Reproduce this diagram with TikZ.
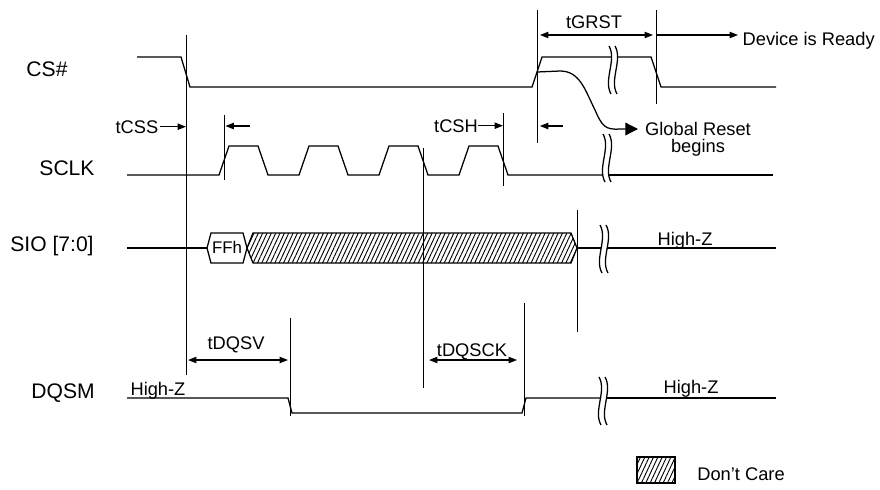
\documentclass[tikz,border=0pt]{standalone}
\usepackage{fontspec}
\setmainfont{Liberation Sans}
\usetikzlibrary{arrows.meta,patterns.meta}
\tikzset{
% Styles for the timing diagram: names, timing labels, arrows and hatching
signal name/.style={anchor=base,inner sep=0,font=\fontsize{15}{17}\selectfont},
time label/.style={anchor=base,inner sep=0,font=\fontsize{13}{15}\selectfont},
marker/.style={line width=0.7pt},
dim arrow/.style={-{Triangle[length=6pt,width=4.5pt]}},
dim both/.style={{Triangle[length=6pt,width=4.5pt]}-{Triangle[length=6pt,width=4.5pt]}},
dont care/.style={pattern={Lines[angle=65,distance=2.8pt,line width=0.65pt]}},
% break in a waveform, two wavy strokes
gap mark/.pic={
\draw (-3,-24) .. controls (5,-10) and (-9,10) .. (-1,24);
\draw (3,-24) .. controls (11,-10) and (-3,10) .. (5,24);
}
}

\begin{document}
\begin{tikzpicture}[x=0.025cm,y=-0.025cm,line width=0.9pt]
\useasboundingbox (0,0) rectangle (880,489);
% Signal names
\node[signal name] (cs) at (47,76) {CS\#};
\node[signal name] (sclk) at (67,175) {SCLK};
\node[signal name] (sio) at (52,251) {SIO [7:0]};
\node[signal name] (dqsm) at (63,398) {DQSM};
% CS#
\draw (137,57) -- (181,57) -- (190,87) -- (532,87) -- (542,57) -- (611,57);
\draw (618,57) -- (651,57) -- (661,87) -- (776,87);
\pic at (612,70) {gap mark};
% SCLK
\draw (127,175) foreach \t in {219,299,379,459} { -- (\t,175) -- (\t+10,146) -- (\t+39,146) -- (\t+49,175) } -- (603,175);
\draw (609,175) -- (773,175);
\pic at (606,158) {gap mark};
% SIO [7:0]
\draw (127,248) -- (207,248);
\draw (207,248) -- (211,233) -- (243,233) -- (247,248) -- (243,263) -- (211,263) -- cycle;
\node[anchor=base,inner sep=0,font=\fontsize{12}{14}\selectfont] (ffh) at (227,253) {FFh};
\draw[dont care] (247,248) -- (253,233) -- (571,233) -- (577,248) -- (571,263) -- (253,263) -- cycle;
\draw (577,248) -- (601,248);
\draw (607,248) -- (776,248);
\pic at (603,249) {gap mark};
\node[time label] (hz sio) at (685,245) {High-Z};
% DQSM
\draw (127,398) -- (288,398) -- (292,413) -- (522,413) -- (526,398) -- (600,398);
\draw (606,398) -- (776,398);
\pic at (602,401) {gap mark};
\node[time label] (hz dq a) at (158,395) {High-Z};
\node[time label] (hz dq b) at (691,393) {High-Z};
% Marker lines
\draw[marker] (186,35) coordinate (cs fall) -- (186,375);
\draw[marker] (224,115) coordinate (sclk rise) -- (224,180);
\draw[marker] (423,148) coordinate (sclk mid) -- (423,388);
\draw[marker] (503,113) coordinate (sclk last) -- (503,186);
\draw[marker] (537,10) coordinate (cs rise) -- (537,143);
\draw[marker] (656,10) coordinate (cs end) -- (656,104);
\draw[marker] (577,210) coordinate (sio end) -- (577,332);
\draw[marker] (290,318) coordinate (dq fall) -- (290,416);
\draw[marker] (524,303) coordinate (dq rise) -- (524,416);
% Timing parameters
\node[time label] (tcss) at (137,133) {tCSS};
\draw[dim arrow] ([xshift=1pt]tcss.east) -- (tcss.east -| cs fall);
\coordinate (css end) at (250,126);
\draw[dim arrow] (css end) -- ([xshift=1pt]css end -| sclk rise);
\node[time label] (tcsh) at (456,132) {tCSH};
\draw[dim arrow] (tcsh.east) -- (tcsh.east -| sclk last);
\coordinate (csh end) at (563,126);
\draw[dim arrow] (csh end) -- ([xshift=2pt]csh end -| cs rise);
\node[time label] (tgrst) at (594,28) {tGRST};
\coordinate (grst a) at (540,35);
\coordinate (grst b) at (653,35);
\draw[dim both] (grst a) -- (grst b);
\node[time label,anchor=base west] (ready) at (742,45) {Device is Ready};
\coordinate (ready end) at (738,35);
\draw[dim arrow] (cs end |- ready end) -- (ready end);
\node[time label] (greset) at (698,135) {Global Reset};
\node[time label] (begins) at (698,152) {begins};
\coordinate (reset start) at (537,72);
\coordinate (reset end) at (638,129);
\draw[-{Triangle[length=9pt,width=9pt]}] (reset start) -- (560,71) .. controls (580,71) and (585,90) .. (595,110) .. controls (602,126) and (605,130) .. (620,129) -- (reset end);
\node[time label] (tdqsv) at (236,349) {tDQSV};
\coordinate (dqsv a) at (188,360);
\coordinate (dqsv b) at (288,360);
\draw[dim both] (dqsv a) -- (dqsv b);
\node[time label] (tdqsck) at (472,356) {tDQSCK};
\coordinate (dqsck a) at (429,360);
\coordinate (dqsck b) at (517,360);
\draw[dim both] (dqsck a) -- (dqsck b);
% Legend
\draw[dont care] (637,457) rectangle (675,483);
\node[time label] (legend) at (741,480) {Don't Care};
\end{tikzpicture}
\end{document}
